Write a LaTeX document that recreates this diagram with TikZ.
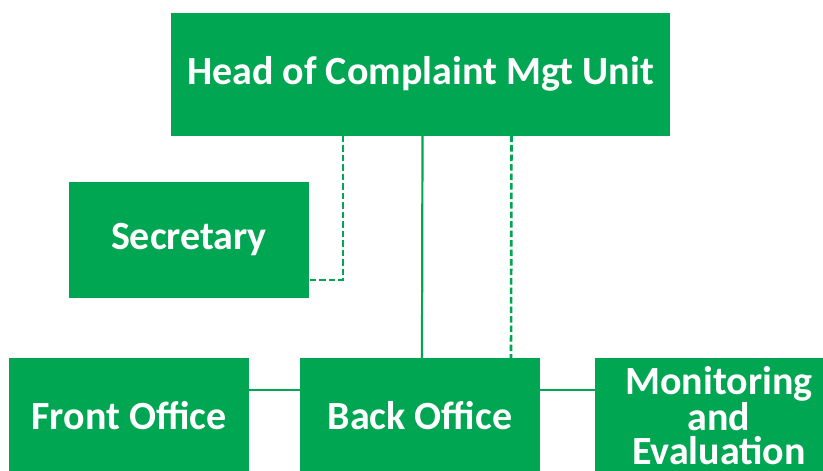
\documentclass[tikz,border=0pt]{standalone}
\usepackage{fontspec}
\setmainfont{Carlito}
\definecolor{orggreen}{RGB}{0,166,81}
\begin{document}
\begin{tikzpicture}[x=1pt,y=-1pt,
  unit/.style={rectangle, fill=orggreen, draw=none, text=white,
    font=\bfseries\fontsize{40}{34}\selectfont, align=center,
    inner sep=0pt, minimum width=240pt, minimum height=116pt},
  solidlink/.style={draw=orggreen, line width=2.2pt},
  dashlink/.style={draw=orggreen, line width=2.6pt, dash pattern=on 6.5pt off 3pt}]
\useasboundingbox (0,0) rectangle (823,471);
\fill[white] (0,0) rectangle (823,471);

\node[unit, minimum width=499pt, minimum height=123pt] (head) at (420.5,74) {Head of Complaint Mgt Unit};
\node[unit] (sec) at (189,240) {Secretary};
\node[unit] (front) at (129,416) {Front Office};
\node[unit] (back) at (420,416) {Back Office};
\node[unit, minimum width=248pt] (mon) at (719,416) {Monitoring\\and\\Evaluation};

% reporting lines
\draw[solidlink] ([xshift=2pt]head.south) -- ([xshift=2pt]back.north);
\draw[dashlink] ([xshift=-77.5pt]head.south) |- ([yshift=-40pt]sec.east);
\draw[dashlink] ([xshift=91pt]head.south) -- ([xshift=91pt]back.north);
\draw[solidlink] ([yshift=26pt]front.east) -- ([yshift=26pt]back.west);
\draw[solidlink] ([yshift=26pt]back.east) -- ([yshift=26pt]mon.west);
\end{tikzpicture}
\end{document}
